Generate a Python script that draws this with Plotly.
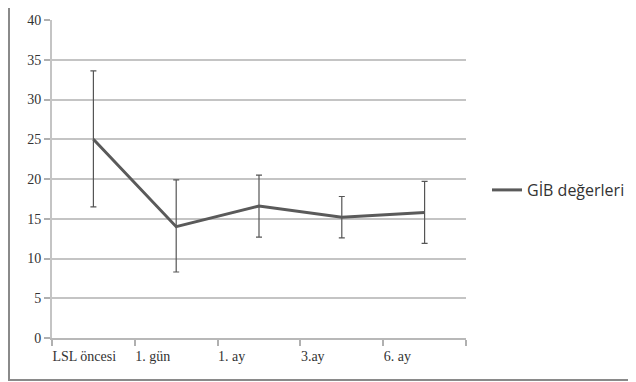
import plotly.graph_objects as go

categories = ["LSL öncesi", "1. gün", "1. ay", "3.ay", "6. ay"]
means = [25.0, 14.0, 16.6, 15.2, 15.8]
err_plus = [8.6, 5.9, 3.9, 2.6, 3.9]
err_minus = [8.5, 5.7, 3.9, 2.6, 3.9]
y_ticks = [0, 5, 10, 15, 20, 25, 30, 35, 40]
series_name = "GİB değerleri"

# the page body adds an 8px margin, so work in page pixels minus 8
OFF = 8
W, H = 636 - OFF, 382 - OFF
L, R, T, B = 52 - OFF, 466 - OFF, 20 - OFF, 338 - OFF  # plot area pixels

x_pos = [i + 0.5 for i in range(len(categories))]

fig = go.Figure()
fig.add_trace(go.Scatter(
    x=x_pos, y=means, mode="lines", name=series_name,
    line=dict(color="#5a5a5a", width=3),
    error_y=dict(type="data", symmetric=False, array=err_plus, arrayminus=err_minus,
                 color="#555555", thickness=1.2, width=3),
))

def px_x(p):
    return (p - OFF - L) / (R - L)

def px_y(p):
    return (B - (p - OFF)) / (B - T)

fig.update_layout(
    width=W, height=H,
    margin=dict(l=L, r=W - R, t=T, b=H - B, pad=0, autoexpand=False),
    paper_bgcolor="white", plot_bgcolor="white",
    showlegend=True,
    legend=dict(x=px_x(487), y=px_y(190), xanchor="left", yanchor="middle",
                font=dict(family="Open Sans", size=16, color="#333333"),
                bgcolor="rgba(0,0,0,0)", itemwidth=30),
    xaxis=dict(range=[0, len(categories)], tickmode="array",
               tickvals=list(range(len(categories) + 1)),
               ticktext=categories + [""],
               ticklabelposition="outside right", ticklabelshift=-1,
               ticklabelstandoff=4,
               ticks="outside", ticklen=6, tickcolor="#b0b0b0", tickwidth=1.5,
               showgrid=False, zeroline=False, automargin=False,
               showline=True, linecolor="#b8b8b8", linewidth=1.5,
               tickfont=dict(family="Liberation Serif", size=14, color="#333333")),
    yaxis=dict(range=[0, 40], tickmode="array", tickvals=y_ticks,
               ticks="outside", ticklen=6, tickcolor="#b0b0b0", tickwidth=1.5,
               showgrid=True, gridcolor="#c4c4c4", gridwidth=1.5, automargin=False,
               zeroline=False, showline=True, linecolor="#c4c4c4", linewidth=2,
               tickfont=dict(family="Liberation Serif", size=14, color="#333333")),
    shapes=[
        dict(type="line", xref="paper", yref="paper", x0=px_x(9), x1=px_x(9),
             y0=px_y(8), y1=px_y(380), line=dict(color="#8a8a8a", width=2)),
        dict(type="line", xref="paper", yref="paper", x0=px_x(8), x1=px_x(636),
             y0=px_y(380), y1=px_y(380), line=dict(color="#8a8a8a", width=2)),
    ],
)

fig.write_html("out.html")
